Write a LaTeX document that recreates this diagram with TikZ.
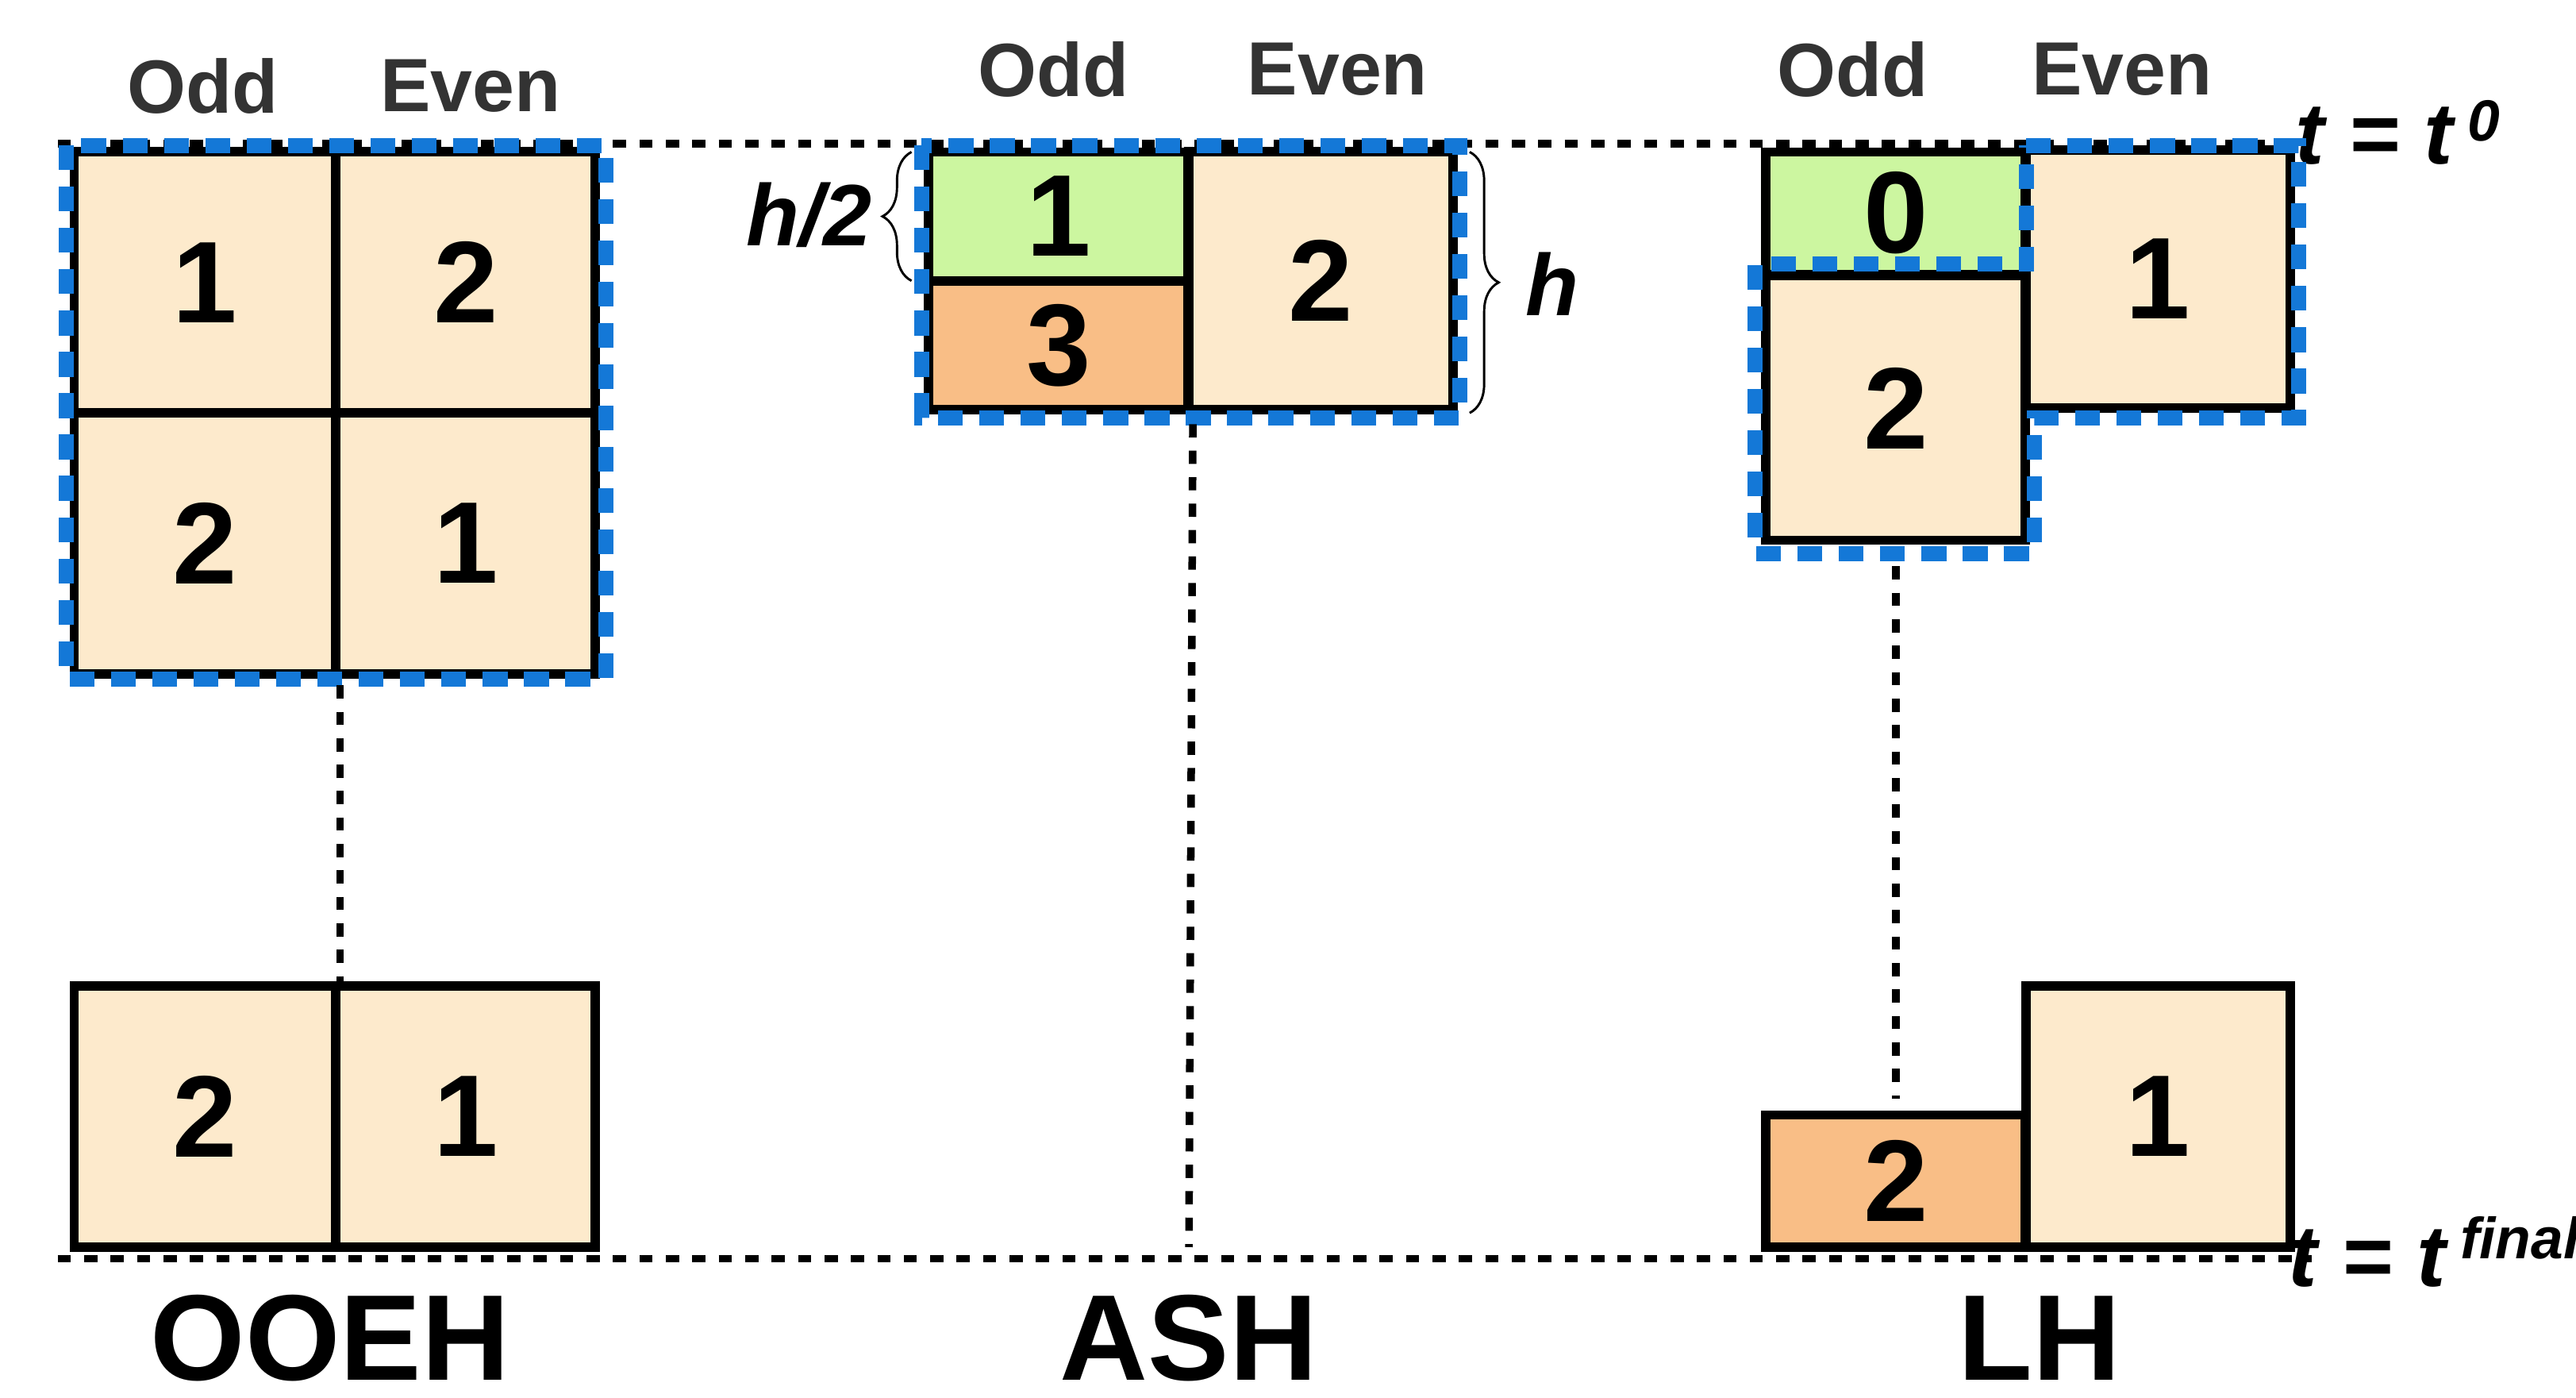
\documentclass[tikz,border=0pt]{standalone}
\usepackage{fontspec}
\setmainfont{Liberation Sans}
\usetikzlibrary{decorations.pathreplacing}
\definecolor{cream}{RGB}{253,234,204}
\definecolor{lgreen}{RGB}{204,246,160}
\definecolor{lorange}{RGB}{249,190,134}
\definecolor{dblue}{RGB}{20,120,215}
\tikzset{
  cell/.style={draw,line width=1.6pt,fill=cream,inner sep=0pt,font=\fontsize{20}{20}\bfseries},
  group/.style={draw=dblue,line width=2.6pt,dash pattern=on 0.15cm off 0.1cm},
  tline/.style={line width=1.3pt,dash pattern=on 0.08cm off 0.08cm},
  head/.style={font=\fontsize{13}{13}\bfseries,text=black!80},
  title/.style={font=\fontsize{21}{21}\bfseries}
}
\begin{document}
\begin{tikzpicture}[x=0.01cm,y=-0.01cm]
  \useasboundingbox (0,0) rectangle (1560,846);
  % time lines
  \draw[tline] (35,87) -- (1398,87);
  \draw[tline] (35,762) -- (1400,762);
  \node[font=\fontsize{15}{15}\bfseries\itshape] (t0) at (1452,80) {t = t\,\raisebox{0.5ex}{\fontsize{10}{10}\selectfont 0}};
  \node[font=\fontsize{15}{15}\bfseries\itshape] (tf) at (1474,758) {t = t\,\raisebox{0.6ex}{\fontsize{10}{10}\selectfont final}};

  % OOEH
  \node[head] (o1) at (123,52) {Odd};
  \node[head] (e1) at (285,52) {Even};
  \node[cell,minimum width=1.58cm,minimum height=1.58cm] (a11) at (124,171) {1};
  \node[cell,minimum width=1.57cm,minimum height=1.58cm] (a12) at (282,171) {2};
  \node[cell,minimum width=1.58cm,minimum height=1.58cm] (a21) at (124,329) {2};
  \node[cell,minimum width=1.57cm,minimum height=1.58cm] (a22) at (282,329) {1};
  \draw[group] (40,88) rectangle (367,411);
  \node[cell,minimum width=1.58cm,minimum height=1.58cm] (b1) at (124,676) {2};
  \node[cell,minimum width=1.57cm,minimum height=1.58cm] (b2) at (282,676) {1};
  \draw[tline] (a21.south east) ++(0,4) -- (b1.north east);
  \node[title] (n1) at (200,810) {OOEH};

  % ASH
  \node[head] (o2) at (638,42) {Odd};
  \node[head] (e2) at (810,42) {Even};
  \node[cell,fill=lgreen,minimum width=1.57cm,minimum height=0.78cm] (c1) at (641,131) {1};
  \node[cell,fill=lorange,minimum width=1.57cm,minimum height=0.78cm] (c3) at (641,209) {3};
  \node[cell,minimum width=1.60cm,minimum height=1.56cm] (c2) at (800,170) {2};
  \draw[group] (558,88) rectangle (884,253);
  \coordinate (ashend) at (720,755);
  \draw[tline] (c3.south east) ++(0,6) -- (ashend);
  \draw[decorate,decoration={brace,amplitude=5pt}] (552,170) -- (552,92);
  \draw[decorate,decoration={brace,amplitude=5pt}] (890,92) -- (890,250);
  \node[font=\fontsize{15}{15}\bfseries\itshape] (hh) at (490,130) {h/2};
  \node[font=\fontsize{15}{15}\bfseries\itshape] (h) at (940,172) {h};
  \node[title] (n2) at (720,810) {ASH};

  % LH
  \node[head] (o3) at (1122,42) {Odd};
  \node[head] (e3) at (1285,42) {Even};
  \node[cell,fill=lgreen,minimum width=1.57cm,minimum height=0.74cm] (d0) at (1148,129) {0};
  \node[cell,minimum width=1.60cm,minimum height=1.56cm] (d1) at (1307,169) {1};
  \node[cell,minimum width=1.57cm,minimum height=1.60cm] (d2) at (1148,247) {2};
  \draw[group] (1227,88) -- (1392,88) -- (1392,253) -- (1232,253) -- (1232,335)
    -- (1063,335) -- (1063,160) -- (1227,160) -- cycle;
  \node[cell,fill=lorange,minimum width=1.57cm,minimum height=0.80cm] (f2) at (1148,715) {2};
  \node[cell,minimum width=1.60cm,minimum height=1.58cm] (f1) at (1307,676) {1};
  \draw[tline] (d2.south) ++(0,13) -- ([yshift=0.07cm]f2.north);
  \node[title] (n3) at (1235,810) {LH};
\end{tikzpicture}
\end{document}
